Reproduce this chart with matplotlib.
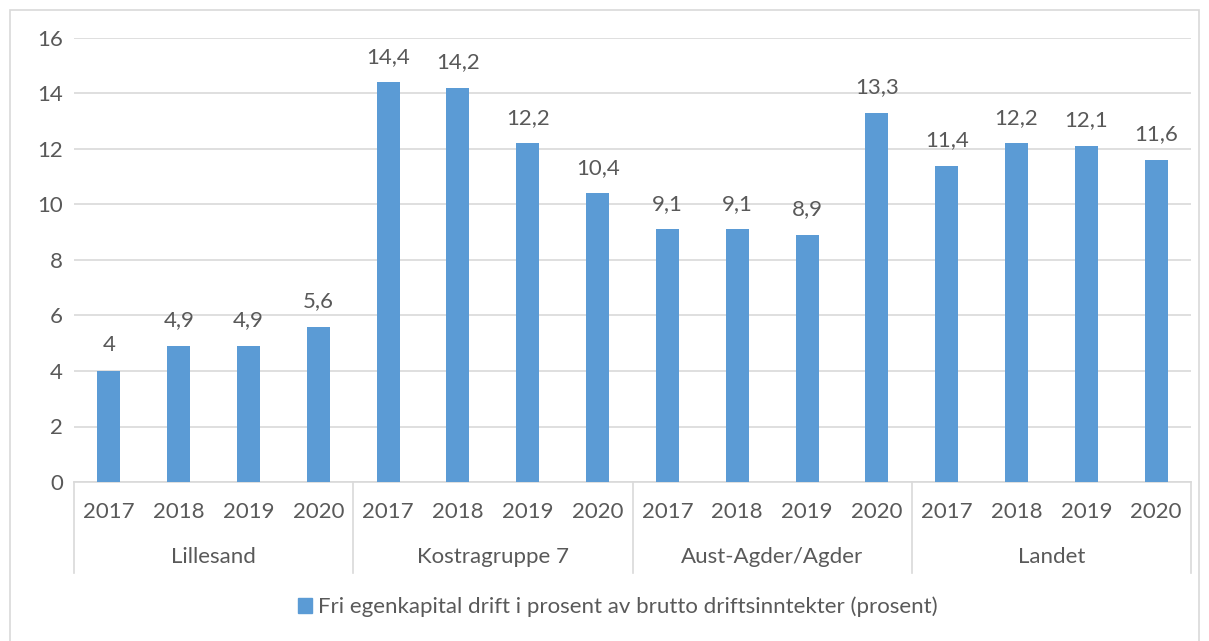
import matplotlib
matplotlib.use("Agg")
import matplotlib.pyplot as plt
from matplotlib.patches import Rectangle, Patch
from matplotlib.lines import Line2D
import matplotlib.transforms as mtransforms

groups = ["Lillesand", "Kostragruppe 7", "Aust-Agder/Agder", "Landet"]
years = ["2017", "2018", "2019", "2020"]
values = [
    [4.0, 4.9, 4.9, 5.6],
    [14.4, 14.2, 12.2, 10.4],
    [9.1, 9.1, 8.9, 13.3],
    [11.4, 12.2, 12.1, 11.6],
]
series_name = "Fri egenkapital drift i prosent av brutto driftsinntekter (prosent)"

W, H = 1209, 641
plt.rcParams['font.family'] = ['Lato', 'DejaVu Sans']
TXT = "#595959"
BAR = "#5B9BD5"
GRID = "#D9D9D9"
FS = 16

fig = plt.figure(figsize=(W/100, H/100), dpi=100)
ax = fig.add_axes([74/W, 1-482/H, (1191-74)/W, (482-38)/H])

n = len(groups) * len(years)
xs = list(range(n))
flat = [v for g in values for v in g]
ax.bar(xs, flat, width=0.33, color=BAR, zorder=3)
for x, v in zip(xs, flat):
    lab = (f"{v:.1f}".replace(".", ",")) if v != int(v) else str(int(v))
    ax.annotate(lab, (x, v), xytext=(0, 18.5), textcoords="offset points",
                ha="center", va="center", fontsize=FS, color=TXT)

ax.set_xlim(-0.5, n-0.5)
ax.set_ylim(0, 16)
ax.set_yticks(range(0, 17, 2))
ax.tick_params(axis='y', length=0, labelsize=FS, labelcolor=TXT, pad=8)
ax.set_xticks([])
ax.grid(axis='y', color=GRID, linewidth=1.2, zorder=0)
for s in ["top", "right", "left"]:
    ax.spines[s].set_visible(False)
ax.spines["bottom"].set_color(GRID)
ax.spines["bottom"].set_linewidth(1.2)

# hierarchical labels
trans = mtransforms.blended_transform_factory(ax.transData, fig.transFigure)
for i, x in enumerate(xs):
    ax.text(x, 1-512/H, years[i % 4], transform=trans, ha="center", va="center",
            fontsize=FS, color=TXT)
for gi, g in enumerate(groups):
    ax.text(gi*4 + 1.5, 1-557/H, g, transform=trans, ha="center", va="center",
            fontsize=FS, color=TXT)
for b in range(len(groups)+1):
    xb = b*4 - 0.5
    ax.add_line(Line2D([xb, xb], [1-482/H, 1-573/H], transform=trans,
                       color=GRID, linewidth=1.2, clip_on=False))

# legend
fig.legend(handles=[Patch(facecolor=BAR, edgecolor=BAR)], labels=[series_name],
           loc="center", bbox_to_anchor=(618/W, 1-607/H), frameon=False,
           fontsize=FS, labelcolor=TXT, handlelength=0.6, handleheight=0.6,
           handletextpad=0.3)

# outer border
fig.patches.append(Rectangle((10/W, -0.01), (1199-10)/W, 1-10/H+0.01,
                             transform=fig.transFigure, fill=False,
                             edgecolor=GRID, linewidth=1.2))

fig.savefig("out.png", dpi=100)
